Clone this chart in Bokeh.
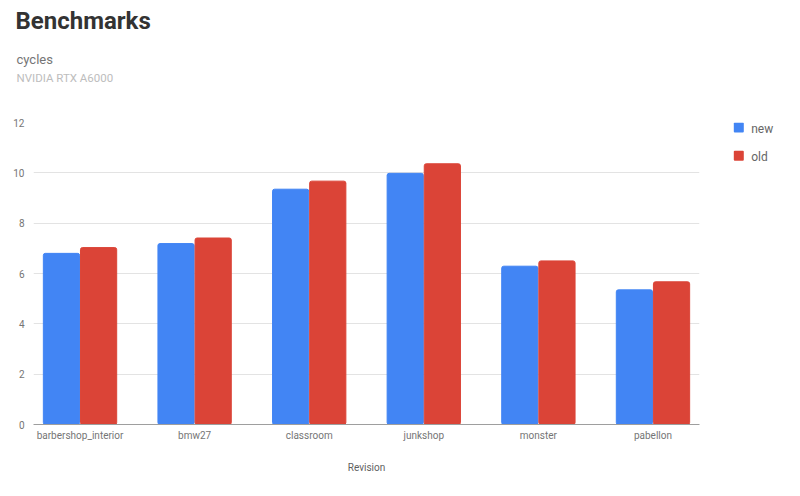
from bokeh.plotting import figure
from bokeh.models import Range1d, FixedTicker, ColumnDataSource
from bokeh.layouts import column, row
from bokeh.core.properties import value
from bokeh.embed import file_html
from bokeh.resources import INLINE

categories = ["barbershop_interior", "bmw27", "classroom", "junkshop", "monster", "pabellon"]
new_values = [6.80, 7.19, 9.35, 9.98, 6.29, 5.35]
old_values = [7.03, 7.41, 9.67, 10.36, 6.50, 5.67]
series_names = ["new", "old"]
y_ticks = [0, 2, 4, 6, 8, 10, 12]
title_text = "Benchmarks"
subtitle_text = "cycles"
device_text = "NVIDIA RTX A6000"
x_axis_title = "Revision"

FONT = "Roboto"
COLORS = ["#4285F4", "#DB4437"]

HEADER_H = 92
TOTAL_W, TOTAL_H = 784, 480
MAIN_W = 715
BODY_H = TOTAL_H - HEADER_H
FRAME_TOP, FRAME_BOTTOM = 122, 424          # page pixels of the plot frame
BORDER_TOP = FRAME_TOP - HEADER_H
BORDER_BOTTOM = TOTAL_H - FRAME_BOTTOM


def bare(fig):
    fig.outline_line_color = None
    fig.grid.grid_line_color = None
    fig.background_fill_color = "white"
    fig.border_fill_color = "white"
    return fig


# ---------- header (titles), 1 data unit = 1 pixel ----------
header = bare(figure(width=TOTAL_W, height=HEADER_H, output_backend="svg", toolbar_location=None,
                     title=None,
                     x_range=Range1d(0, TOTAL_W), y_range=Range1d(HEADER_H, 0),
                     x_axis_location=None, y_axis_location=None,
                     min_border=0, min_border_left=0, min_border_right=0,
                     min_border_top=0, min_border_bottom=0))
header.text(x=[15], y=[20.0], text=[title_text], text_font=value(FONT), text_font_size="24px",
            text_font_style="bold", text_color="#333333", text_baseline="middle")
header.text(x=[16], y=[58.8], text=[subtitle_text], text_font=value(FONT), text_font_size="13px",
            text_color="#757575", text_baseline="middle")
header.text(x=[16], y=[77.7], text=[device_text], text_font=value(FONT), text_font_size="11.5px",
            text_color="#bdbdbd", text_baseline="middle")

# ---------- main chart ----------
idx = list(range(len(categories)))
src = ColumnDataSource(dict(
    x_new=[i - 0.162 for i in idx],
    x_old=[i + 0.162 for i in idx],
    new=new_values,
    old=old_values,
))

p = figure(width=MAIN_W, height=BODY_H, output_backend="svg", toolbar_location=None,
           title=None,
           x_range=Range1d(-0.406, len(categories) - 1 + 0.406), y_range=Range1d(0, 12),
           min_border_left=33, min_border_right=16, min_border_top=BORDER_TOP,
           min_border_bottom=BORDER_BOTTOM)
p.outline_line_color = None
p.background_fill_color = "white"

p.vbar(x="x_new", top="new", width=0.316, source=src, color=COLORS[0], border_radius=2)
p.vbar(x="x_old", top="old", width=0.316, source=src, color=COLORS[1], border_radius=2)

p.xaxis.ticker = FixedTicker(ticks=idx)
p.xaxis.major_label_overrides = {i: c for i, c in zip(idx, categories)}
p.xaxis.major_tick_line_color = None
p.xaxis.major_tick_out = 0
p.xaxis.minor_tick_line_color = None
p.xaxis.axis_line_color = "#9e9e9e"
p.xaxis.major_label_text_font = FONT
p.xaxis.major_label_text_font_size = "10px"
p.xaxis.major_label_text_color = "#757575"
p.xaxis.major_label_standoff = 5
p.xaxis.axis_label = x_axis_title
p.xaxis.axis_label_text_font = FONT
p.xaxis.axis_label_text_font_style = "normal"
p.xaxis.axis_label_text_font_size = "10px"
p.xaxis.axis_label_text_color = "#5f5f5f"
p.xaxis.axis_label_standoff = 18

p.yaxis.ticker = FixedTicker(ticks=y_ticks)
p.yaxis.major_tick_line_color = None
p.yaxis.major_tick_out = 0
p.yaxis.minor_tick_line_color = None
p.yaxis.axis_line_color = None
p.yaxis.major_label_text_font = FONT
p.yaxis.major_label_text_font_size = "10px"
p.yaxis.major_label_text_color = "#757575"
p.yaxis.major_label_standoff = 9

p.xgrid.grid_line_color = None
p.ygrid.grid_line_color = "#e3e3e3"
p.ygrid.ticker = FixedTicker(ticks=y_ticks)

# ---------- legend panel: same frame as the chart, y in page pixels ----------
LEG_W = TOTAL_W - MAIN_W
leg = bare(figure(width=LEG_W, height=BODY_H, output_backend="svg", toolbar_location=None,
                  title=None,
                  x_range=Range1d(0, LEG_W), y_range=Range1d(FRAME_BOTTOM, FRAME_TOP),
                  x_axis_location=None, y_axis_location=None,
                  min_border_left=0, min_border_right=0,
                  min_border_top=BORDER_TOP, min_border_bottom=BORDER_BOTTOM))
pitch = 28.3
n = len(series_names)
leg.rect(x=[18.3 + 5] * n, y=[FRAME_TOP + 5 + k * pitch for k in range(n)], width=10, height=10,
         fill_color=COLORS[:n], line_color=None, border_radius=1)
leg.text(x=[35.7] * n, y=[FRAME_TOP + 6.6 + k * pitch for k in range(n)], text=series_names,
         text_font=value(FONT), text_font_size="12px", text_color="#666666",
         text_baseline="middle")

layout = column(header, row(p, leg, spacing=0), spacing=0)

open("out.html", "w").write(file_html(layout, INLINE))
